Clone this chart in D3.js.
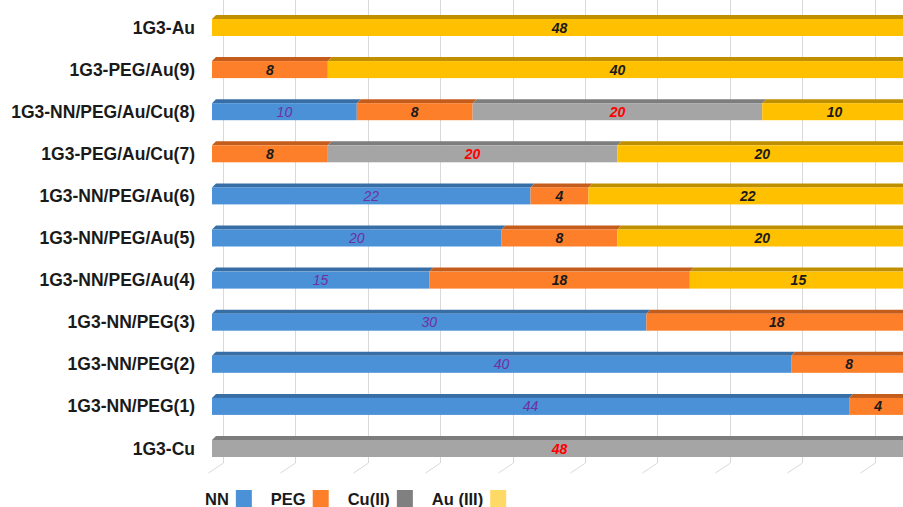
<!DOCTYPE html>
<html>
<head>
<meta charset="utf-8">
<script src="https://cdn.jsdelivr.net/npm/d3@7"></script>
<style>
  html, body { margin: 0; padding: 0; background: #fff; }
  svg { display: block; }
</style>
</head>
<body>
<div id="chart"></div>
<script>
const width = 903;
const height = 507;

// rows, top to bottom
const categories = [
  '1G3-Au',
  '1G3-PEG/Au(9)',
  '1G3-NN/PEG/Au/Cu(8)',
  '1G3-PEG/Au/Cu(7)',
  '1G3-NN/PEG/Au(6)',
  '1G3-NN/PEG/Au(5)',
  '1G3-NN/PEG/Au(4)',
  '1G3-NN/PEG(3)',
  '1G3-NN/PEG(2)',
  '1G3-NN/PEG(1)',
  '1G3-Cu'
];
const nnValues  = [0, 0, 10, 0, 22, 20, 15, 30, 40, 44, 0];
const pegValues = [0, 8, 8, 8, 4, 8, 18, 18, 8, 4, 0];
const cuValues  = [0, 0, 20, 20, 0, 0, 0, 0, 0, 0, 48];
const auValues  = [48, 40, 10, 20, 22, 20, 15, 0, 0, 0, 0];

const seriesKeys = ['NN', 'PEG', 'Cu', 'Au'];
const legendLabels = ['NN', 'PEG', 'Cu(II)', 'Au (III)'];
const xMax = 48;

// colours: front face, top face, label, legend swatch
const frontColor = { NN: '#4a91d8', PEG: '#fd7f2a', Cu: '#a5a5a5', Au: '#ffc000' };
const topColor   = { NN: '#376ea6', PEG: '#c45d1c', Cu: '#7d7d7d', Au: '#c08f00' };
const labelColor = { NN: '#7030a0', PEG: '#1a1a1a', Cu: '#ff0000', Au: '#1a1a1a' };
const swatchColor = { NN: '#4a91d8', PEG: '#fd7f2a', Cu: '#808080', Au: '#ffd966' };

const rows = categories.map((c, i) => ({
  category: c,
  NN: nnValues[i],
  PEG: pegValues[i],
  Cu: cuValues[i],
  Au: auValues[i]
}));

const svg = d3.select('#chart')
  .append('svg')
  .attr('width', width)
  .attr('height', height)
  .style('font-family', '"Liberation Sans", Arial, sans-serif');

const xScale = d3.scaleLinear().domain([0, xMax]).range([212, 907]);
const yScale = d3.scalePoint().domain(categories).range([27.5, 448.5]);

const barH = 17;     // front face height
const depthX = 4;    // 3d offset of top face
const depthY = 4;
const wallShift = 11; // back wall gridlines sit behind the bars
const floorY = 463;

// gridlines on the back wall + floor ticks
const ticks = xScale.ticks(10).filter(t => t < xMax);
const grid = svg.append('g').attr('class', 'grid')
  .attr('stroke', '#d9d9d9').attr('stroke-width', 1).attr('fill', 'none');

grid.selectAll('path')
  .data(ticks)
  .join('path')
  .attr('d', t => {
    const gx = Math.round(xScale(t) + wallShift) + 0.5;
    return `M${gx},0 L${gx},${floorY} L${gx - 15},${floorY + 10}`;
  });

// stacked bars
const stacked = d3.stack().keys(seriesKeys)(rows);

const layers = svg.append('g').attr('class', 'bars')
  .selectAll('g')
  .data(stacked)
  .join('g');

layers.each(function(layer) {
  const key = layer.key;
  const g = d3.select(this);
  const segs = layer.filter(d => d[1] - d[0] > 0);

  // top face
  g.selectAll('path.top')
    .data(segs)
    .join('path')
    .attr('class', 'top')
    .attr('fill', topColor[key])
    .attr('d', d => {
      const x0 = xScale(d[0]), x1 = xScale(d[1]);
      const y0 = yScale(d.data.category) - barH / 2;
      return `M${x0},${y0} L${x0 + depthX},${y0 - depthY} L${x1 + depthX},${y0 - depthY} L${x1},${y0} Z`;
    });

  // front face
  g.selectAll('rect.front')
    .data(segs)
    .join('rect')
    .attr('class', 'front')
    .attr('fill', frontColor[key])
    .attr('x', d => xScale(d[0]))
    .attr('y', d => yScale(d.data.category) - barH / 2)
    .attr('width', d => xScale(d[1]) - xScale(d[0]))
    .attr('height', barH);

  // value labels
  g.selectAll('text')
    .data(segs)
    .join('text')
    .attr('x', d => (xScale(d[0]) + xScale(d[1])) / 2)
    .attr('y', d => yScale(d.data.category) + 5)
    .attr('text-anchor', 'middle')
    .attr('font-size', 14)
    .attr('font-style', 'italic')
    .attr('font-weight', key === 'NN' ? 'normal' : 'bold')
    .attr('fill', labelColor[key])
    .text(d => d[1] - d[0]);
});

// category labels
svg.append('g').attr('class', 'cats')
  .selectAll('text')
  .data(categories)
  .join('text')
  .attr('x', 195)
  .attr('y', d => yScale(d) + 6)
  .attr('text-anchor', 'end')
  .attr('font-size', 17.5)
  .attr('font-weight', 'bold')
  .attr('fill', '#1a1a1a')
  .text(d => d);

// legend
const legend = svg.append('g').attr('class', 'legend');
let lx = 205;
seriesKeys.forEach((key, i) => {
  const t = legend.append('text')
    .attr('x', lx)
    .attr('y', 505)
    .attr('font-size', 16.5)
    .attr('font-weight', 'bold')
    .attr('fill', '#1a1a1a')
    .text(legendLabels[i]);
  const tw = t.node().getComputedTextLength();
  const sx = lx + tw + 7;
  legend.append('rect')
    .attr('x', sx)
    .attr('y', 490)
    .attr('width', 16)
    .attr('height', 20)
    .attr('fill', swatchColor[key]);
  lx = sx + 16 + 19;
});
</script>
</body>
</html>
